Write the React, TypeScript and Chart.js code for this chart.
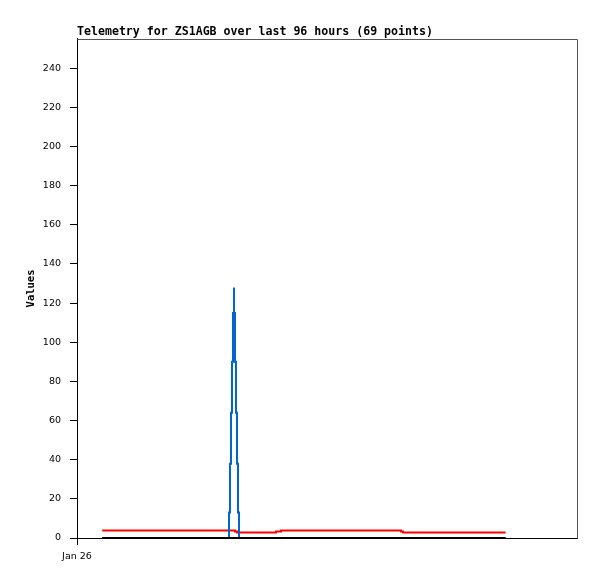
import React, { useEffect, useRef } from 'react';
import { Chart, registerables } from 'chart.js';

Chart.register(...registerables);

const TITLE = 'Telemetry for ZS1AGB over last 96 hours (69 points)';
const Y_LABEL = 'Values';
const X_TICK_HOURS = [0];
const X_TICK_LABELS = ['Jan 26'];
const Y_TICKS = [0, 20, 40, 60, 80, 100, 120, 140, 160, 180, 200, 220, 240];
const X_MAX_HOURS = 119;
const Y_MAX = 255;

// hours since Jan 26 00:00
const redHours = [6, 37.6, 38.08, 47.36, 48.55, 77.11, 77.59, 102];
const redValues = [3.8, 3.3, 2.8, 3.3, 3.8, 3.3, 2.8, 2.8];

const blueHours = [6, 36.18, 36.41, 36.65, 36.89, 37.13, 37.37, 37.37, 37.6, 37.84, 38.08, 38.32, 38.56, 102];
const blueValues = [0, 13, 38, 64, 90, 115, 128, 115, 90, 64, 38, 13, 0, 0];

const blackHours = [6, 102];
const blackValues = [0, 0];

const toPoints = (xs: number[], ys: number[]) => xs.map((x, i) => ({ x, y: ys[i] }));

const framePlugin = {
  id: 'frame',
  afterDraw(chart: any) {
    const { ctx, chartArea } = chart;
    ctx.save();
    ctx.strokeStyle = '#555555';
    ctx.lineWidth = 1;
    ctx.beginPath();
    ctx.moveTo(Math.round(chartArea.left) + 0.5, Math.round(chartArea.top) + 0.5);
    ctx.lineTo(Math.round(chartArea.right) + 0.5, Math.round(chartArea.top) + 0.5);
    ctx.lineTo(Math.round(chartArea.right) + 0.5, Math.round(chartArea.bottom) + 0.5);
    ctx.stroke();
    ctx.restore();
  },
};

export default function App() {
  const ref = useRef<HTMLCanvasElement | null>(null);

  useEffect(() => {
    if (!ref.current) return;
    const common = { borderWidth: 2, pointRadius: 0, tension: 0, stepped: true, clip: false as any };
    const chart = new Chart(ref.current, {
      type: 'line',
      data: {
        datasets: [
          { label: 'black', data: toPoints(blackHours, blackValues), borderColor: '#000000', ...common },
          { label: 'blue', data: toPoints(blueHours, blueValues), borderColor: '#0066cc', ...common },
          { label: 'red', data: toPoints(redHours, redValues), borderColor: '#ff0000', ...common },
        ],
      },
      options: {
        responsive: false,
        animation: false,
        layout: { padding: { left: 0, right: 20, top: 0, bottom: 0 } },
        plugins: {
          legend: { display: false },
          tooltip: { enabled: false },
          title: {
            display: true,
            text: TITLE,
            align: 'start',
            fullSize: false,
            color: '#000000',
            font: { family: 'DejaVu Sans Mono', size: 11.6, weight: 'bold', lineHeight: 1.2 },
            padding: { top: 25, bottom: 0 },
          },
        },
        scales: {
          x: {
            type: 'linear',
            min: 0,
            max: X_MAX_HOURS,
            afterBuildTicks: (scale: any) => {
              scale.ticks = X_TICK_HOURS.map((v) => ({ value: v }));
            },
            afterFit: (scale: any) => {
              scale.height = 41;
            },
            ticks: {
              autoSkip: false,
              maxRotation: 0,
              padding: 6,
              color: '#000000',
              font: { family: 'DejaVu Sans', size: 9.5 },
              callback: (v: any) => {
                const i = X_TICK_HOURS.indexOf(Number(v));
                return i >= 0 ? X_TICK_LABELS[i] : '';
              },
            },
            grid: { drawOnChartArea: false, drawTicks: true, tickLength: 7, color: '#000000', lineWidth: 1 },
            border: { display: true, color: '#000000', width: 1 },
          },
          y: {
            type: 'linear',
            min: 0,
            max: Y_MAX,
            afterBuildTicks: (scale: any) => {
              scale.ticks = Y_TICKS.map((v) => ({ value: v }));
            },
            afterFit: (scale: any) => {
              scale.width = 77;
            },
            ticks: {
              autoSkip: false,
              padding: 9,
              color: '#000000',
              font: { family: 'DejaVu Sans', size: 9.5 },
            },
            grid: { drawOnChartArea: false, drawTicks: true, tickLength: 7, color: '#000000', lineWidth: 1 },
            border: { display: true, color: '#000000', width: 1 },
            title: {
              display: true,
              text: Y_LABEL,
              color: '#000000',
              font: { family: 'DejaVu Sans Mono', size: 10.5, weight: 'bold', lineHeight: 1.2 },
              padding: { top: 25, bottom: 0 },
            },
          },
        },
      },
      plugins: [framePlugin],
    });
    return () => chart.destroy();
  }, []);

  return (
    <div style={{ position: 'absolute', left: 0, top: 0, width: 597, height: 579, background: '#ffffff' }}>
      <canvas ref={ref} width={597} height={579} style={{ display: 'block', width: 597, height: 579 }} />
    </div>
  );
}
